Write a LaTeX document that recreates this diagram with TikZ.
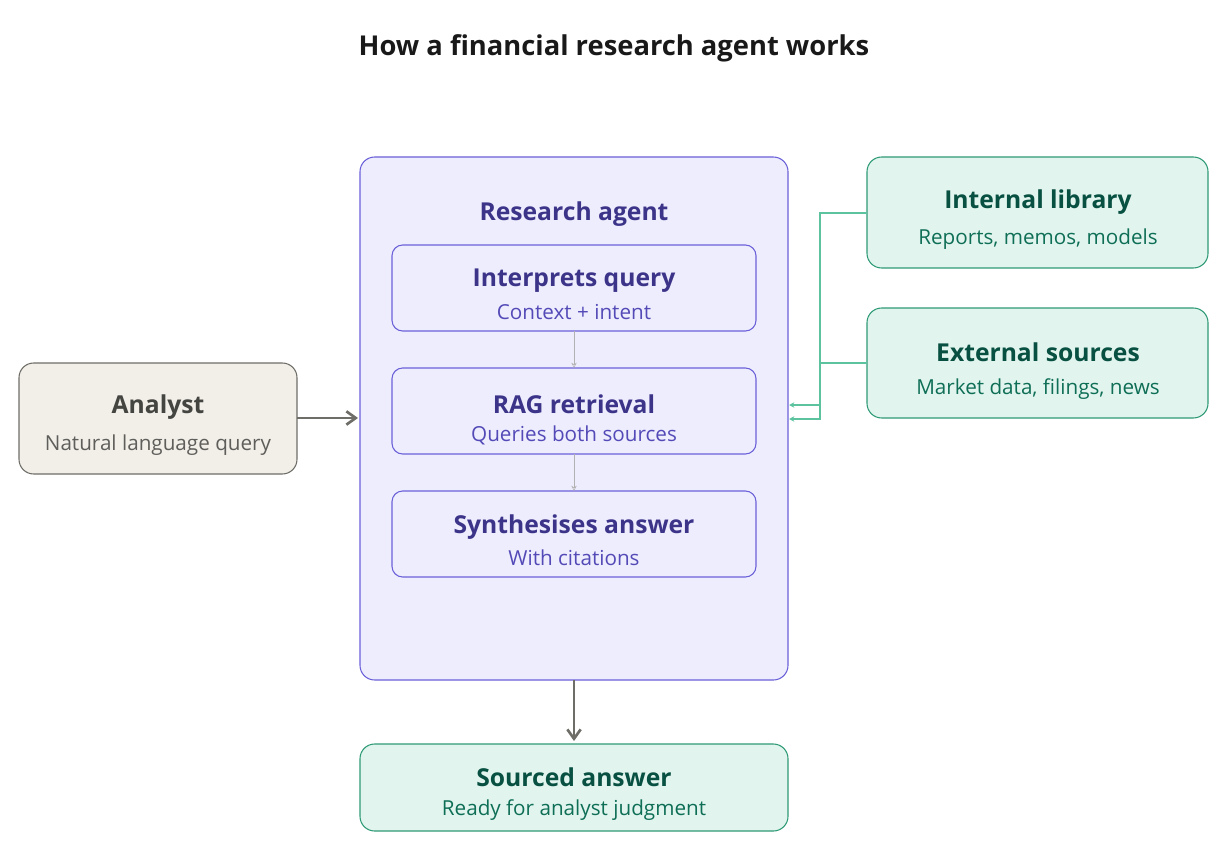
\documentclass[tikz,border=0pt]{standalone}
\usepackage{fontspec}
\setmainfont{Open Sans}
\usetikzlibrary{arrows.meta}
\definecolor{gfill}{HTML}{F1EFE8}\definecolor{gline}{HTML}{6E6D68}\definecolor{gtext}{HTML}{444441}\definecolor{gsub}{HTML}{5F5E5A}
\definecolor{pfill}{HTML}{EEEDFE}\definecolor{pline}{HTML}{6A60D8}\definecolor{ptext}{HTML}{3C3489}\definecolor{psub}{HTML}{534AB7}
\definecolor{tfill}{HTML}{E1F5EE}\definecolor{tline}{HTML}{2E9A76}\definecolor{ttext}{HTML}{085041}\definecolor{tsub}{HTML}{0F6E56}
\definecolor{tconn}{HTML}{5DC39E}
\begin{document}
\begin{tikzpicture}[x=0.75pt,y=-0.75pt,
 box/.style={draw,rounded corners=11pt,line width=0.8pt},
 ttl/.style={font=\fontsize{18.5}{20}\selectfont\bfseries},
 sub/.style={font=\fontsize{15.5}{18}\selectfont},
 arr/.style={-{Straight Barb[length=7pt,width=10pt]},line width=2pt,draw=gline},
 small/.style={-{Stealth[length=4pt,width=4pt,open]},line width=0.4pt,draw=black!30},
 conn/.style={-{Stealth[length=4pt,width=4pt,open]},line width=0.9pt,draw=tconn}]
\useasboundingbox (0,0) rectangle (1224,859);
\node[font=\fontsize{20.5}{24}\selectfont\bfseries,text=black!90] (title) at (614,48) {How a financial research agent works};
% analyst
\draw[box,fill=gfill,draw=gline] (19,363) rectangle (297,474);
\node[ttl,text=gtext] (an) at (158,407) {Analyst};
\node[sub,text=gsub] (ans) at (158,445) {Natural language query};
\coordinate (anR) at (297,418);
% agent
\draw[box,fill=pfill,draw=pline] (360,157) rectangle (788,680);
\node[ttl,text=ptext] (ra) at (574,214) {Research agent};
\coordinate (agL) at (358,418);
\coordinate (agB) at (574,680);
\foreach \n/\y/\t/\s in {a/245/Interprets query/Context + intent, b/368/RAG retrieval/Queries both sources, c/491/Synthesises answer/With citations}{
 \draw[box,fill=pfill,draw=pline,rounded corners=8pt] (392,\y) rectangle (756,\y+86);
 \node[ttl,text=ptext] (\n t) at (574,\y+36) {\t};
 \node[sub,text=psub] (\n s) at (574,\y+67) {\s};
 \coordinate (\n T) at (574,\y);
 \coordinate (\n B) at (574,\y+86);
}
\draw[small] (aB) -- (bT);
\draw[small] (bB) -- (cT);
% sources
\draw[box,fill=tfill,draw=tline] (867,157) rectangle (1208,268);
\node[ttl,text=ttext] (il) at (1038,202) {Internal library};
\node[sub,text=tsub] (ils) at (1038,239) {Reports, memos, models};
\draw[box,fill=tfill,draw=tline] (867,308) rectangle (1208,418);
\node[ttl,text=ttext] (es) at (1038,352) {External sources};
\node[sub,text=tsub] (ess) at (1038,389) {Market data, filings, news};
\coordinate (ilL) at (867,213);
\coordinate (esL) at (867,363);
\coordinate (in1) at (789,419);
\coordinate (in2) at (789,405);
\draw[conn] (ilL) -| (820,419) -- (in1);
\draw[conn] (esL) -| (820,405) -- (in2);
% output
\draw[box,fill=tfill,draw=tline] (360,744) rectangle (788,831);
\node[ttl,text=ttext] (sa) at (574,777) {Sourced answer};
\node[sub,text=tsub] (sas) at (574,810) {Ready for analyst judgment};
\coordinate (saT) at (574,741);
\draw[arr] (anR) -- (agL);
\draw[arr] (agB) -- (saT);
\end{tikzpicture}
\end{document}
